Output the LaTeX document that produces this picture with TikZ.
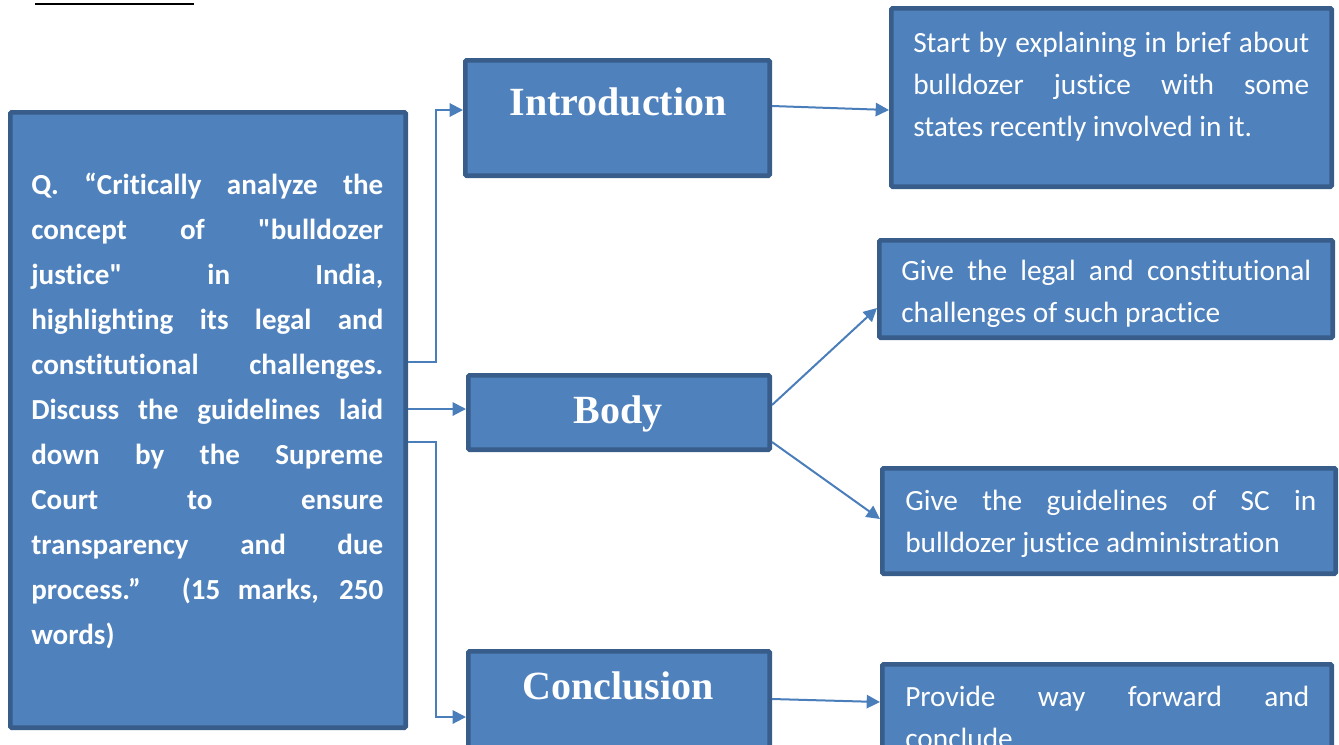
\documentclass[tikz,border=0pt]{standalone}
\usepackage{fontspec}
\setmainfont{Carlito}[Ligatures=NoCommon]
\newfontfamily\headfont{Liberation Serif}
\usetikzlibrary{arrows.meta}
\definecolor{boxfill}{HTML}{4F81BD}
\definecolor{boxline}{HTML}{385D8A}
\definecolor{linkblue}{HTML}{4A7EBB}
\tikzset{
  box/.style={draw=boxline,fill=boxfill,line width=3.5pt,inner sep=0pt,rounded corners=1pt},
  qtext/.style={anchor=north west,inner sep=0pt,text=white,align=justify,text width=352*0.75pt,
    font=\bfseries\fontsize{21.8}{33.75}\selectfont},
  ptext/.style={anchor=north west,inner sep=0pt,text=white,align=justify,
    font=\fontsize{22}{31.5}\selectfont},
  headtext/.style={anchor=base,text=white,inner sep=0pt,font=\headfont\bfseries\fontsize{30}{36}\selectfont},
  link/.style={draw=linkblue,line width=1.5pt,-{Triangle[length=10pt,width=10pt]}},
}
% box from its outer corners (x1,y1) to (x2,y2), in pixels
\newcommand\mkbox[5]{\node[box,minimum width={(#4-#2-4.67)*0.75pt},minimum height={(#5-#3-4.67)*0.75pt}] (#1) at ({(#2+#4)/2},{(#3+#5)/2}) {};}
\hbadness=10000
\begin{document}
\begin{tikzpicture}[x=0.75pt,y=-0.75pt]
\useasboundingbox (0,0) rectangle (1339,744);

\draw[line width=2pt] (35,4) -- (194,4);

\mkbox{Q}{8}{110}{408}{730}
\mkbox{Intro}{463}{58}{772}{178}
\mkbox{Body}{466}{373}{772}{452}
\mkbox{Concl}{466}{649}{772}{785}
\mkbox{brief}{889}{6}{1334}{189}
\mkbox{legal}{877}{238}{1335}{340}
\mkbox{guide}{880}{466}{1338}{576}
\mkbox{way}{880}{662}{1334}{790}

\node[qtext] (qT) at (31,173) {Q. “Critically analyze the\linebreak
concept of \textquotedbl bulldozer\linebreak
justice\textquotedbl{} in India,\linebreak
highlighting its legal and\linebreak
constitutional challenges.\linebreak
Discuss the guidelines laid\linebreak
down by the Supreme\linebreak
Court to ensure\linebreak
transparency and due\linebreak
process.” (15 marks, 250\linebreak
words)};

\node[headtext] (introT) at (618,115) {Introduction};
\node[headtext] (bodyT) at (618,423) {Body};
\node[headtext] (conclT) at (618,699) {Conclusion};

\node[ptext,text width=396*0.75pt] (briefT) at (913,32) {Start by explaining in brief about\linebreak
bulldozer justice with some\linebreak states recently involved in it.};
\node[ptext,text width=410*0.75pt] (legalT) at (901,260) {Give the legal and constitutional\linebreak
challenges of such practice};
\node[ptext,text width=411*0.75pt] (guideT) at (905,490) {Give the guidelines of SC in\linebreak
bulldozer justice administration};
\node[ptext,text width=404*0.75pt] (wayT) at (905,686) {Provide way forward and\linebreak conclude};

% links
\draw[link] (Q.east |- 0,362) -| (436,110) -- (Intro.west |- 0,110);
\draw[link] (Q.east |- 0,409) -- (Body.west |- 0,409);
\draw[link] (Q.east |- 0,442) -| (436,717) -- (Concl.west |- 0,717);
\draw[link] (Intro.east |- 0,106) -- (brief.west |- 0,110);
\draw[link] (Body.east |- 0,405) -- (legal.west |- 0,308);
\draw[link] (Body.east |- 0,442) -- (guide.west |- 0,519);
\draw[link] (Concl.east |- 0,699) -- (way.west |- 0,702);
\end{tikzpicture}
\end{document}
